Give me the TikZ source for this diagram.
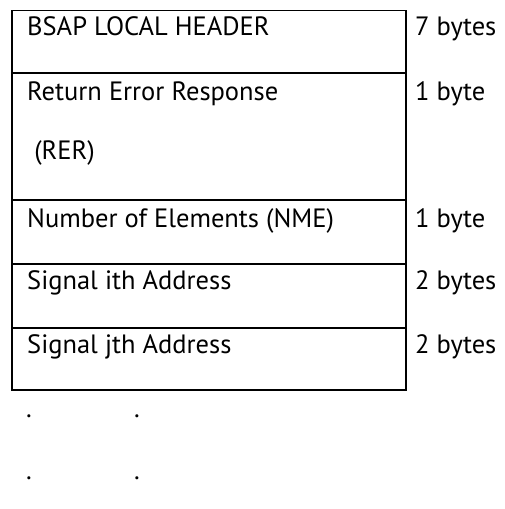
\documentclass[tikz,border=0pt]{standalone}
\usepackage{fontspec}
\setmainfont{PT Sans}
\begin{document}
\begin{tikzpicture}[x=1pt,y=-1pt,
  rowbox/.style={draw, line width=1.8pt, anchor=north west, inner sep=0pt, minimum width=394pt},
  lbl/.style={anchor=base west, inner sep=0pt, font=\fontsize{26.5}{30}\selectfont},
  dot/.style={anchor=base, inner sep=0pt, font=\fontsize{26.5}{30}\selectfont}]
\useasboundingbox (0,0) rectangle (504,509);
\node[rowbox, minimum height=62.5pt] (r1) at (11,9.5) {};
\node[rowbox, minimum height=127pt] (r2) at (11,72) {};
\node[rowbox, minimum height=64pt] (r3) at (11,199) {};
\node[rowbox, minimum height=64pt] (r4) at (11,263) {};
\node[rowbox, minimum height=62pt] (r5) at (11,327) {};
\node[lbl] (t1) at (27,35) {BSAP LOCAL HEADER};
\node[lbl] (t2) at (27,100) {Return Error Response};
\node[lbl] (t2b) at (27,159) {\ (RER)};
\node[lbl] (t3) at (27,227) {Number of Elements (NME)};
\node[lbl] (t4) at (27,289) {Signal ith Address};
\node[lbl] (t5) at (27,353) {Signal jth Address};
\node[lbl] (s1) at (415,35) {7 bytes};
\node[lbl] (s2) at (415,100) {1 byte};
\node[lbl] (s3) at (415,227) {1 byte};
\node[lbl] (s4) at (415,289) {2 bytes};
\node[lbl] (s5) at (415,353) {2 bytes};
\node[dot] (d1) at (29,417) {.};
\node[dot] (d2) at (137,417) {.};
\node[dot] (d3) at (29,479) {.};
\node[dot] (d4) at (137,479) {.};
\end{tikzpicture}
\end{document}
